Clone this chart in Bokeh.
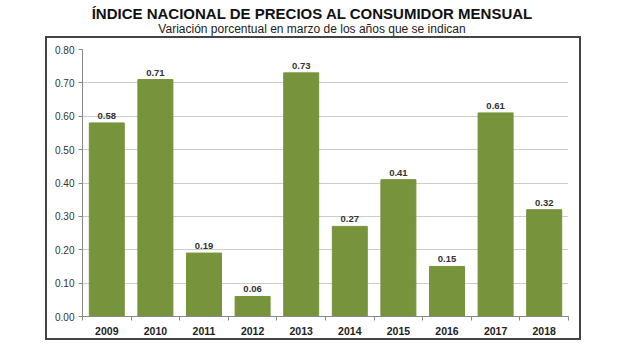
from bokeh.plotting import figure
from bokeh.models import Div, FixedTicker, NumeralTickFormatter, ColumnDataSource, LabelSet, Range1d
from bokeh.core.properties import value
from bokeh.layouts import column
from bokeh.embed import file_html
from bokeh.resources import INLINE

title = "ÍNDICE NACIONAL DE PRECIOS AL CONSUMIDOR MENSUAL"
subtitle = "Variación porcentual en marzo de los años que se indican"
years = ["2009", "2010", "2011", "2012", "2013", "2014", "2015", "2016", "2017", "2018"]
values = [0.58, 0.71, 0.19, 0.06, 0.73, 0.27, 0.41, 0.15, 0.61, 0.32]
y_ticks = [0.0, 0.1, 0.2, 0.3, 0.4, 0.5, 0.6, 0.7, 0.8]

FONT = "Arial"

xs = [i + 1 for i in range(len(years))]
src = ColumnDataSource(dict(x=xs, top=values, lab=["%.2f" % v for v in values]))

p = figure(width=536, height=304, output_backend="svg", toolbar_location=None,
           x_range=Range1d(0.5, len(years) + 0.5), y_range=Range1d(0, 0.8))
p.margin = (0, 0, 0, 45)
p.min_border_left = 35
p.min_border_right = 15
p.min_border_top = 11
p.min_border_bottom = 26
p.outline_line_color = None
p.styles = {"border": "2px solid #444"}

p.vbar(x="x", top="top", width=0.72, bottom=0, source=src,
       fill_color="#77933C", line_color="#77933C")
p.add_layout(LabelSet(x="x", y="top", text="lab", source=src, y_offset=4,
                      text_align="center", text_baseline="bottom",
                      text_font=value(FONT), text_font_size="9.5px",
                      text_font_style="bold", text_color="#333333"))

p.xgrid.grid_line_color = None
p.ygrid.grid_line_color = "#cccccc"
p.ygrid.ticker = FixedTicker(ticks=y_ticks)

p.yaxis.ticker = FixedTicker(ticks=y_ticks)
p.yaxis.formatter = NumeralTickFormatter(format="0.00")
p.yaxis.major_tick_in = 0
p.yaxis.major_tick_out = 4
p.yaxis.minor_tick_line_color = None
p.yaxis.axis_line_color = "#888888"
p.yaxis.major_tick_line_color = "#888888"
p.yaxis.major_label_text_font = FONT
p.yaxis.major_label_text_font_size = "10px"
p.yaxis.major_label_text_color = "#333333"
p.yaxis.major_label_standoff = 4

p.xaxis.ticker = FixedTicker(ticks=xs, minor_ticks=[x - 0.5 for x in xs] + [xs[-1] + 0.5])
p.xaxis.major_label_overrides = {x: y for x, y in zip(xs, years)}
p.xaxis.major_tick_line_color = None
p.xaxis.major_tick_in = 0
p.xaxis.major_tick_out = 0
p.xaxis.minor_tick_in = 0
p.xaxis.minor_tick_out = 4
p.xaxis.minor_tick_line_color = "#888888"
p.xaxis.axis_line_color = "#888888"
p.xaxis.major_label_text_font = FONT
p.xaxis.major_label_text_font_size = "10.5px"
p.xaxis.major_label_text_font_style = "bold"
p.xaxis.major_label_text_color = "#222222"
p.xaxis.major_label_standoff = 6

html = (
    '<div style="width:624px;height:36px;text-align:center;font-family:Arial,Liberation Sans,sans-serif;margin:0;padding:0">'
    '<div style="height:22px;padding-top:5px;box-sizing:border-box;line-height:17px;font-size:15px;font-weight:bold;color:#111">%s</div>'
    '<div style="height:14px;line-height:14px;font-size:12px;color:#222">%s</div>'
    '</div>' % (title, subtitle)
)
d = Div(text=html, width=624, height=36, margin=(0, 0, 0, 0))

layout = column(d, p, spacing=0)
open("out.html", "w").write(file_html(layout, INLINE))
